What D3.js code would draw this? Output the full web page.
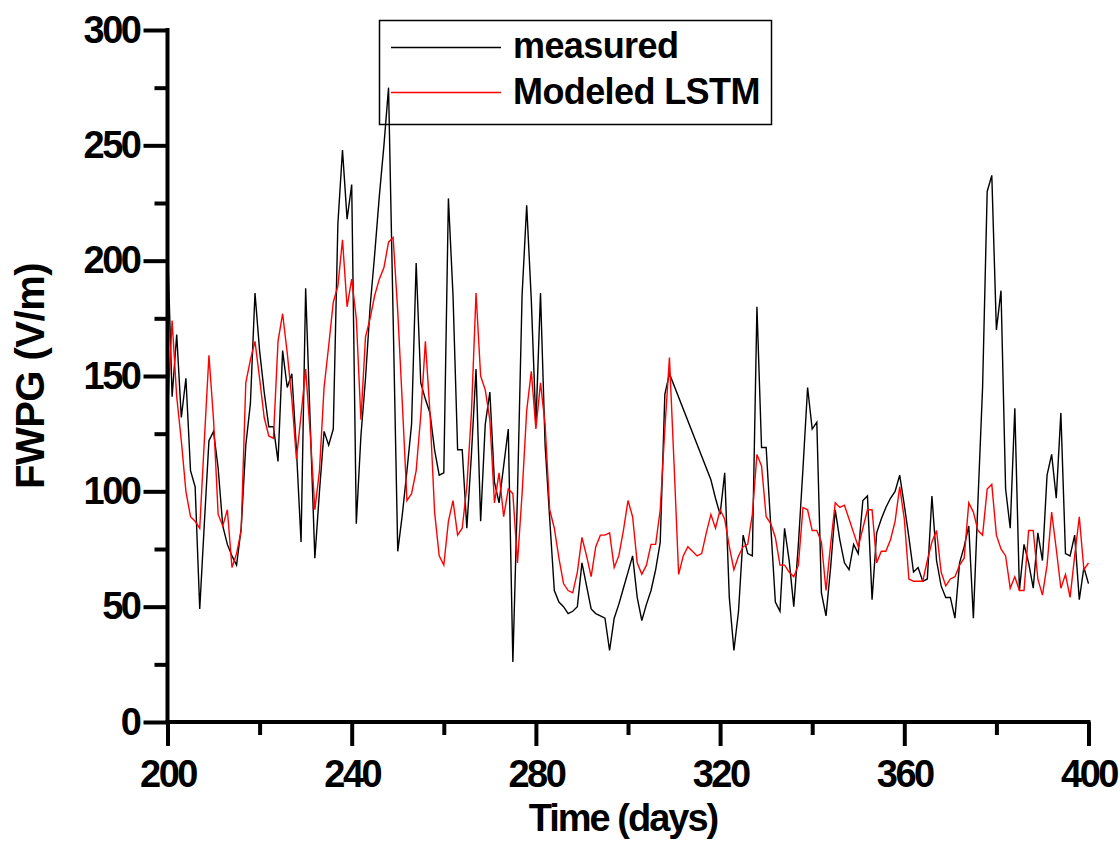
<!DOCTYPE html>
<html>
<head>
<meta charset="utf-8">
<script src="https://cdn.jsdelivr.net/npm/d3@7"></script>
<style>
  html, body { margin: 0; padding: 0; background: #fff; }
  svg { display: block; }
  text { font-family: "Liberation Sans", Arial, sans-serif; font-weight: bold; fill: #000; }
</style>
</head>
<body>
<svg id="chart" width="1120" height="841"></svg>
<script>
// ---- Data ----
const measuredDays = [
  200,201,202,203,204,205,206,207,208,209,210,211,212,213,214,215,216,217,218,219,
  220,221,222,223,224,225,226,227,228,229,230,231,232,233,234,235,236,237,238,239,
  240,241,242,243,244,245,246,247,248,249,250,251,252,253,254,255,256,257,258,259,
  260,261,262,263,264,265,266,267,268,269,270,271,272,273,274,275,276,277,278,279,
  280,281,282,283,284,285,286,287,288,289,290,291,292,293,294,295,296,297,298,299,
  300,301,302,303,304,305,306,307,308,309,318,319,
  320,321,322,323,324,325,326,327,328,329,330,331,332,333,334,335,336,337,338,339,
  340,341,342,343,344,345,346,347,348,349,350,351,352,353,354,355,356,357,358,359,
  360,361,362,363,364,365,366,367,368,369,370,371,372,373,374,375,376,377,378,379,
  380,381,382,383,384,385,386,387,388,389,390,391,392,393,394,395,396,397,398,399,400
];
const measuredValues = [
  208,141,168,132,149,109,102,49,86,122,126,110,85,77,72,68,84,120,138,186,
  161,143,128,128,113,161,145,151,118,78,188,129,71,100,126,120,127,216,248,218,
  233,86,124,149,180,203,228,250,275,175,74,90,109,129,199,147,140,134,118,107,
  108,227,185,118,118,84,116,153,87,129,143,104,95,111,127,26,99,185,224,183,
  129,186,120,88,57,52,50,47,48,50,69,59,49,47,46,45,31,45,51,58,
  65,72,54,44,51,57,66,78,142,151,105,97,
  90,108,54,31,48,81,73,72,180,119,119,85,52,48,84,70,50,77,110,145,
  127,130,56,46,67,92,79,69,66,77,73,96,98,53,82,88,93,97,100,107,
  94,80,65,67,61,62,98,70,59,54,54,45,69,76,85,45,96,145,230,237,
  170,187,101,84,136,57,77,69,58,82,70,107,116,97,134,73,72,81,53,67,60
];
const modeledDays = d3.range(200, 401);
const modeledValues = [
  134,174,141,122,100,89,87,84,122,159,131,90,85,92,67,73,83,147,157,165,
  149,132,124,123,165,177,160,140,114,133,153,125,92,109,145,163,182,189,209,180,
  192,175,131,167,175,185,192,197,208,210,178,138,96,99,109,133,165,134,91,72,
  68,87,96,81,84,102,134,186,150,144,131,95,108,89,101,99,69,99,135,152,
  127,147,129,92,84,71,60,57,56,65,80,72,63,76,81,81,82,67,72,83,
  96,89,69,64,68,77,77,92,127,158,112,64,72,76,74,72,73,82,90,84,
  92,88,76,66,72,76,77,90,116,111,89,86,80,68,68,65,63,68,93,92,
  83,83,78,57,77,95,93,94,88,82,76,84,92,92,69,74,74,79,87,102,
  88,62,61,61,61,70,78,83,65,59,62,63,68,71,95,91,83,81,101,103,
  81,75,72,58,63,57,57,83,83,62,55,68,91,75,58,64,54,72,89,66,69
];
const xMajorTicks = [200, 240, 280, 320, 360, 400];
const xMinorTicks = [220, 260, 300, 340, 380];
const yMajorTicks = [0, 50, 100, 150, 200, 250, 300];
const yMinorTicks = [25, 75, 125, 175, 225, 275];
const seriesNames = ["measured", "Modeled LSTM"];
const seriesColors = ["#000000", "#ff0000"];

// ---- Layout ----
const svg = d3.select("#chart");
const plotLeft = 167.5, plotRight = 1088.5, plotTop = 30, plotBottom = 722;

const x = d3.scaleLinear().domain([200, 400]).range([plotLeft, plotRight]);
const y = d3.scaleLinear().domain([0, 300]).range([plotBottom, plotTop]);

// Legend (drawn first: the data lines pass over it)
const legend = svg.append("g");
legend.append("rect")
  .attr("x", 379.5).attr("y", 20.5).attr("width", 392).attr("height", 104)
  .attr("fill", "#fff").attr("stroke", "#000").attr("stroke-width", 1.5);
const legendY = [47.5, 92.5];
const legendBase = [58, 104];
seriesNames.forEach((name, i) => {
  legend.append("line")
    .attr("x1", 391).attr("x2", 501).attr("y1", legendY[i]).attr("y2", legendY[i])
    .attr("stroke", seriesColors[i]).attr("stroke-width", 1.4);
  legend.append("text")
    .attr("x", 513).attr("y", legendBase[i])
    .style("font-size", "36px").style("letter-spacing", "-0.6px")
    .text(name);
});

const line = d3.line().x(d => x(d[0])).y(d => y(d[1]));

const measured = measuredDays.map((d, i) => [d, measuredValues[i]]);
const modeled = modeledDays.map((d, i) => [d, modeledValues[i]]);

svg.append("path").datum(measured)
  .attr("d", line).attr("fill", "none")
  .attr("stroke", seriesColors[0]).attr("stroke-width", 1.4);
svg.append("path").datum(modeled)
  .attr("d", line).attr("fill", "none")
  .attr("stroke", seriesColors[1]).attr("stroke-width", 1.4);

// Axes
const xAxisMajor = d3.axisBottom(x).tickValues(xMajorTicks).tickSize(24).tickPadding(14).tickFormat(d3.format("d"));
const xAxisMinor = d3.axisBottom(x).tickValues(xMinorTicks).tickSize(13).tickFormat("");
const yAxisMajor = d3.axisLeft(y).tickValues(yMajorTicks).tickSize(24).tickPadding(4).tickFormat(d3.format("d"));
const yAxisMinor = d3.axisLeft(y).tickValues(yMinorTicks).tickSize(13).tickFormat("");

function styleAxis(g) {
  g.select(".domain").remove();
  g.selectAll(".tick line").attr("stroke", "#000").attr("stroke-width", 4);
  g.selectAll(".tick text")
    .attr("fill", "#000")
    .style("font-family", '"Liberation Sans", Arial, sans-serif')
    .style("font-weight", "bold")
    .style("font-size", "38px")
    .style("letter-spacing", "-2.5px");
}

svg.append("g").attr("transform", `translate(0,${plotBottom})`).call(xAxisMajor).call(styleAxis);
svg.append("g").attr("transform", `translate(0,${plotBottom})`).call(xAxisMinor).call(styleAxis);
svg.append("g").attr("transform", `translate(${plotLeft},0)`).call(yAxisMajor).call(styleAxis);
svg.append("g").attr("transform", `translate(${plotLeft},0)`).call(yAxisMinor).call(styleAxis);

// Axis lines
svg.append("line").attr("x1", plotLeft).attr("x2", plotLeft).attr("y1", plotTop - 2).attr("y2", plotBottom)
  .attr("stroke", "#000").attr("stroke-width", 4);
svg.append("line").attr("x1", plotLeft - 2).attr("x2", plotRight + 2).attr("y1", plotBottom).attr("y2", plotBottom)
  .attr("stroke", "#000").attr("stroke-width", 4);

// Axis titles
svg.append("text")
  .attr("x", (plotLeft + plotRight) / 2 - 5).attr("y", 831)
  .attr("text-anchor", "middle")
  .style("font-size", "38px").style("letter-spacing", "-2px")
  .text("Time (days)");

svg.append("text")
  .attr("transform", `translate(44,376) rotate(-90)`)
  .attr("text-anchor", "middle")
  .style("font-size", "40px").style("letter-spacing", "-0.5px")
  .text("FWPG (V/m)");
</script>
</body>
</html>
